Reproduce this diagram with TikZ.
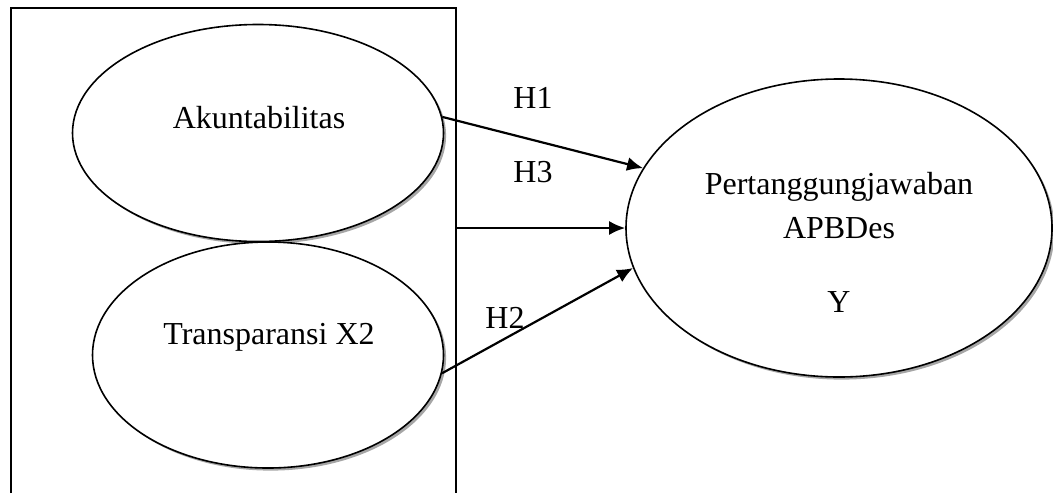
\documentclass[tikz,border=0pt]{standalone}
\usepackage{fontspec}
\setmainfont{Liberation Serif}
\usetikzlibrary{arrows.meta,shapes.geometric,shadows}

\begin{document}
\begin{tikzpicture}[x=0.5pt, y=-0.5pt,
    oval/.style={ellipse, draw, line width=0.8pt, fill=white, inner sep=0pt,
        drop shadow={shadow xshift=1.3pt, shadow yshift=-1.3pt, fill=gray!70, opacity=1}},
    lbl/.style={font=\fontsize{16}{20}\selectfont, inner sep=0pt},
    link/.style={line width=1.1pt, -{Latex[length=8pt,width=7pt]}}]
    % Define the page size
    \useasboundingbox (0,0) rectangle (1053,493);

    % Draw the frame round both variables (open at the bottom)
    \draw[line width=0.8pt] (11,493) -- (11,8) -- (456,8) -- (456,493);

    % Draw the variables
    \node[oval, minimum width=185.5pt, minimum height=108.5pt] (akun) at (258,133) {};
    \node[oval, minimum width=175.5pt, minimum height=113pt] (trans) at (268,355) {};
    \node[oval, minimum width=213pt, minimum height=149pt] (pert) at (839,228) {};
    \coordinate (frame) at (456,228);

    % Place the texts
    \node[lbl] (akuntxt) at (259,118) {Akuntabilitas};
    \node[lbl] (transtxt) at (269,337) {Transparansi X2};
    \node[lbl] (perttxt) at (839,187) {Pertanggungjawaban};
    \node[lbl] (apbtxt) at (839,228) {APBDes};
    \node[lbl] (ytxt) at (839,302) {Y};

    % Draw the hypotheses
    \draw[link] (akun.5) -- (pert.163);
    \draw[link] (frame) -- (pert.west);
    \draw[link] (trans.-6) -- (pert.191);

    % Hypothesis labels
    \node[lbl] (h1) at (533,98) {H1};
    \node[lbl] (h3) at (533,172) {H3};
    \node[lbl] (h2) at (505,318) {H2};
\end{tikzpicture}
\end{document}
